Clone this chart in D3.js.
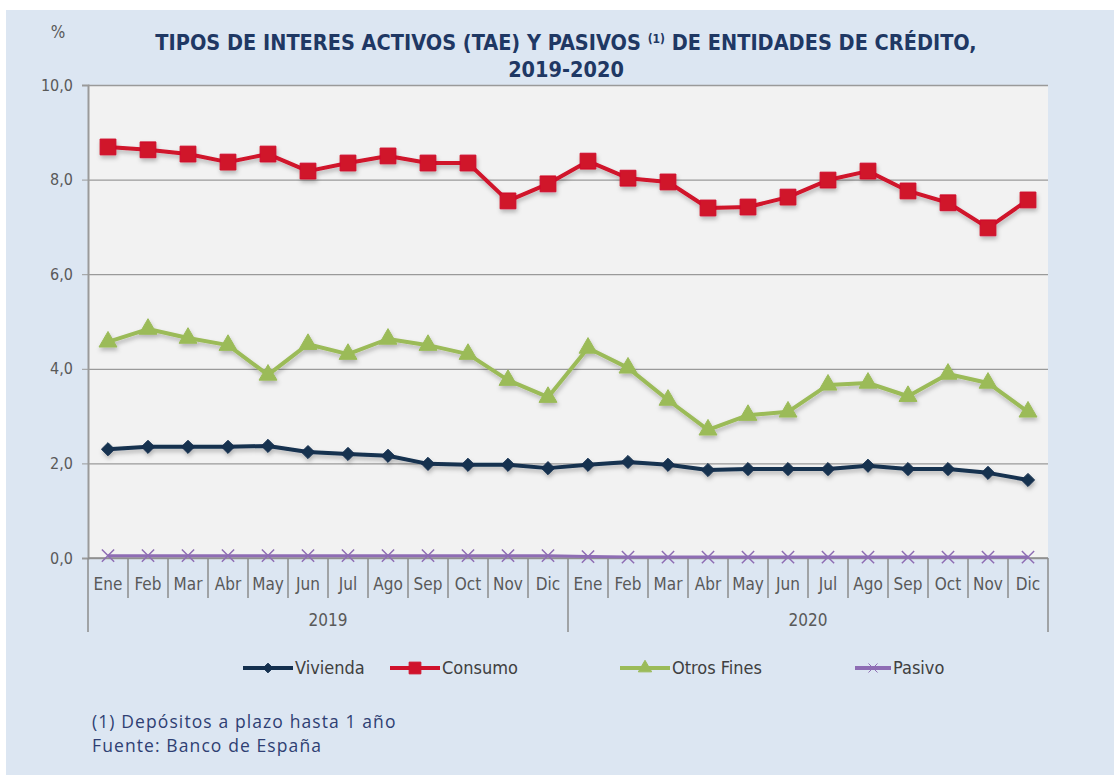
<!DOCTYPE html>
<html>
<head>
<meta charset="utf-8">
<script src="https://cdn.jsdelivr.net/npm/d3@7"></script>
<style>
  body { margin: 0; background: #ffffff; }
  #chart { width: 1114px; height: 775px; }
</style>
</head>
<body>
<div id="chart"></div>
<script>
// chart data
var years = ['2019', '2020'];
var months = ['Ene', 'Feb', 'Mar', 'Abr', 'May', 'Jun', 'Jul', 'Ago', 'Sep', 'Oct', 'Nov', 'Dic'];
var yTicks = [0, 2, 4, 6, 8, 10];

var vivienda = [2.30, 2.35, 2.35, 2.35, 2.37, 2.24, 2.20, 2.16, 1.99, 1.97, 1.97, 1.90,
                1.97, 2.03, 1.97, 1.86, 1.88, 1.88, 1.88, 1.95, 1.88, 1.88, 1.80, 1.65];
var consumo = [8.69, 8.63, 8.54, 8.37, 8.54, 8.18, 8.35, 8.50, 8.35, 8.35, 7.55, 7.91,
               8.39, 8.03, 7.95, 7.40, 7.42, 7.63, 7.99, 8.18, 7.76, 7.51, 6.98, 7.57];
var otrosFines = [4.57, 4.84, 4.65, 4.50, 3.87, 4.52, 4.31, 4.63, 4.50, 4.31, 3.76, 3.40,
                  4.44, 4.02, 3.34, 2.71, 3.02, 3.09, 3.66, 3.70, 3.42, 3.89, 3.70, 3.09];
var pasivo = [0.05, 0.05, 0.05, 0.05, 0.05, 0.05, 0.05, 0.05, 0.05, 0.05, 0.05, 0.05,
              0.03, 0.02, 0.02, 0.02, 0.02, 0.02, 0.02, 0.02, 0.02, 0.02, 0.02, 0.02];

var width = 1114, height = 775;
var plot = { left: 88, right: 1048, top: 85, bottom: 558 };

var narrow = '"Liberation Sans Narrow", "DejaVu Sans Condensed", "Arial Narrow", sans-serif';

var svg = d3.select('#chart').append('svg')
  .attr('width', width)
  .attr('height', height)
  .style('font-family', narrow);

var defs = svg.append('defs');
var shadow = defs.append('filter').attr('id', 'shadow')
  .attr('x', '-10%').attr('y', '-10%').attr('width', '120%').attr('height', '140%');
shadow.append('feDropShadow')
  .attr('dx', 1).attr('dy', 3).attr('stdDeviation', 2)
  .attr('flood-color', '#000').attr('flood-opacity', 0.25);

// background panel
svg.append('rect')
  .attr('x', 6).attr('y', 10)
  .attr('width', width - 6).attr('height', height - 10)
  .attr('fill', '#dce6f2');

// category keys
var keys = [];
years.forEach(function(y) {
  months.forEach(function(m) { keys.push(y + '-' + m); });
});

var x = d3.scaleBand().domain(keys).range([plot.left, plot.right]);
var y = d3.scaleLinear().domain([0, 10]).range([plot.bottom, plot.top]);
var cx = function(d, i) { return x(keys[i]) + x.bandwidth() / 2; };

// plot area
svg.append('rect')
  .attr('x', plot.left).attr('y', plot.top)
  .attr('width', plot.right - plot.left).attr('height', plot.bottom - plot.top)
  .attr('fill', '#f2f2f2');

// gridlines
svg.append('g')
  .attr('transform', 'translate(' + plot.left + ',0)')
  .call(d3.axisLeft(y).tickValues(yTicks).tickSize(-(plot.right - plot.left)).tickFormat(''))
  .call(function(g) {
    g.select('.domain').remove();
    g.selectAll('line').attr('stroke', '#9a9a9a').attr('stroke-width', 1.3);
  });

// y axis
svg.append('g')
  .attr('transform', 'translate(' + plot.left + ',0)')
  .call(d3.axisLeft(y).tickValues(yTicks).tickSize(6).tickPadding(9)
    .tickFormat(function(d) { return d3.format('.1f')(d).replace('.', ','); }))
  .call(function(g) {
    g.select('.domain').attr('stroke', '#9a9a9a').attr('stroke-width', 2);
    g.selectAll('line').attr('stroke', '#9a9a9a');
    g.selectAll('text').attr('fill', '#595959').style('font-size', '16px')
      .style('font-family', narrow);
  });

// x axis: months
var xAxis = svg.append('g');
xAxis.selectAll('text.month')
  .data(keys)
  .enter().append('text')
  .attr('class', 'month')
  .attr('x', function(d) { return x(d) + x.bandwidth() / 2; })
  .attr('y', plot.bottom + 32)
  .attr('text-anchor', 'middle')
  .attr('fill', '#595959')
  .style('font-size', '17px')
  .text(function(d) { return d.split('-')[1]; });

// separators between months
xAxis.selectAll('line.sep')
  .data(keys)
  .enter().append('line')
  .attr('class', 'sep')
  .attr('x1', function(d) { return x(d); })
  .attr('x2', function(d) { return x(d); })
  .attr('y1', plot.bottom)
  .attr('y2', function(d, i) { return i % 12 === 0 ? plot.bottom + 74 : plot.bottom + 40; })
  .attr('stroke', '#8c8c8c')
  .attr('stroke-width', 1.5);
xAxis.append('line')
  .attr('x1', plot.right).attr('x2', plot.right)
  .attr('y1', plot.bottom).attr('y2', plot.bottom + 74)
  .attr('stroke', '#8c8c8c').attr('stroke-width', 1.5);
xAxis.append('line')
  .attr('x1', plot.left).attr('x2', plot.right)
  .attr('y1', plot.bottom).attr('y2', plot.bottom)
  .attr('stroke', '#8c8c8c').attr('stroke-width', 1.5);

// year labels
xAxis.selectAll('text.year')
  .data(years)
  .enter().append('text')
  .attr('class', 'year')
  .attr('x', function(d) {
    return (x(d + '-Ene') + x(d + '-Dic') + x.bandwidth()) / 2;
  })
  .attr('y', plot.bottom + 68)
  .attr('text-anchor', 'middle')
  .attr('fill', '#595959')
  .style('font-size', '17px')
  .text(function(d) { return d; });

// series config
var series = [
  { name: 'Vivienda', values: vivienda, color: '#14304f', symbol: d3.symbolDiamond2, size: 110 },
  { name: 'Consumo', values: consumo, color: '#d0122c', symbol: d3.symbolSquare, size: 250 },
  { name: 'Otros Fines', values: otrosFines, color: '#9bbb59', symbol: d3.symbolTriangle, size: 140 },
  { name: 'Pasivo', values: pasivo, color: '#8e6db4', symbol: d3.symbolX, size: 100 }
];

var line = d3.line().x(cx).y(function(d) { return y(d); });

series.forEach(function(s) {
  var g = svg.append('g').attr('filter', s.name === 'Pasivo' ? null : 'url(#shadow)');
  g.append('path')
    .datum(s.values)
    .attr('d', line)
    .attr('fill', 'none')
    .attr('stroke', s.color)
    .attr('stroke-width', s.name === 'Pasivo' ? 3 : 4)
    .attr('stroke-linejoin', 'round');
  g.selectAll('path.mark')
    .data(s.values)
    .enter().append('path')
    .attr('class', 'mark')
    .attr('transform', function(d, i) {
      return 'translate(' + cx(d, i) + ',' + y(d) + ')';
    })
    .attr('d', d3.symbol().type(s.symbol).size(s.size))
    .attr('fill', s.color)
    .attr('stroke', s.color)
    .attr('stroke-width', s.name === 'Pasivo' ? 1.5 : 1);
});

// title
svg.append('text')
  .attr('x', 58).attr('y', 38)
  .attr('text-anchor', 'middle')
  .attr('fill', '#595959')
  .style('font-size', '17px')
  .text('%');

var title = svg.append('text')
  .attr('x', 566).attr('y', 50)
  .attr('text-anchor', 'middle')
  .attr('fill', '#1f3864')
  .style('font-size', '21.5px')
  .style('font-weight', 'bold');
title.append('tspan').text('TIPOS DE INTERES ACTIVOS (TAE) Y PASIVOS ');
title.append('tspan').text('(1)').style('font-size', '12px').attr('dy', -7);
title.append('tspan').text(' DE ENTIDADES DE CRÉDITO,').attr('dy', 7);
svg.append('text')
  .attr('x', 566).attr('y', 77)
  .attr('text-anchor', 'middle')
  .attr('fill', '#1f3864')
  .style('font-size', '21.5px')
  .style('font-weight', 'bold')
  .text('2019-2020');

// legend
var legendX = [243, 390, 620, 855];
var legendLen = [50, 50, 50, 36];
var legend = svg.append('g');
series.forEach(function(s, i) {
  var lg = legend.append('g').attr('transform', 'translate(' + legendX[i] + ',668)');
  lg.append('line')
    .attr('x1', 0).attr('x2', legendLen[i])
    .attr('stroke', s.color).attr('stroke-width', 4);
  lg.append('path')
    .attr('transform', 'translate(' + legendLen[i] / 2 + ',0)')
    .attr('d', d3.symbol().type(s.symbol).size(s.size * 0.55))
    .attr('fill', s.color).attr('stroke', s.color);
  lg.append('text')
    .attr('x', legendLen[i] + 2).attr('y', 6)
    .attr('fill', '#404040')
    .style('font-size', '18px')
    .text(s.name);
});

// footnote
var foot = svg.append('g').style('font-family', '"Open Sans", "Noto Sans", sans-serif')
  .style('font-size', '17.5px').style('letter-spacing', '1.1px').attr('fill', '#2f3f73');
foot.append('text').attr('x', 92).attr('y', 728).text('(1) Depósitos a plazo hasta 1 año');
foot.append('text').attr('x', 92).attr('y', 752).text('Fuente: Banco de España');
</script>
</body>
</html>
